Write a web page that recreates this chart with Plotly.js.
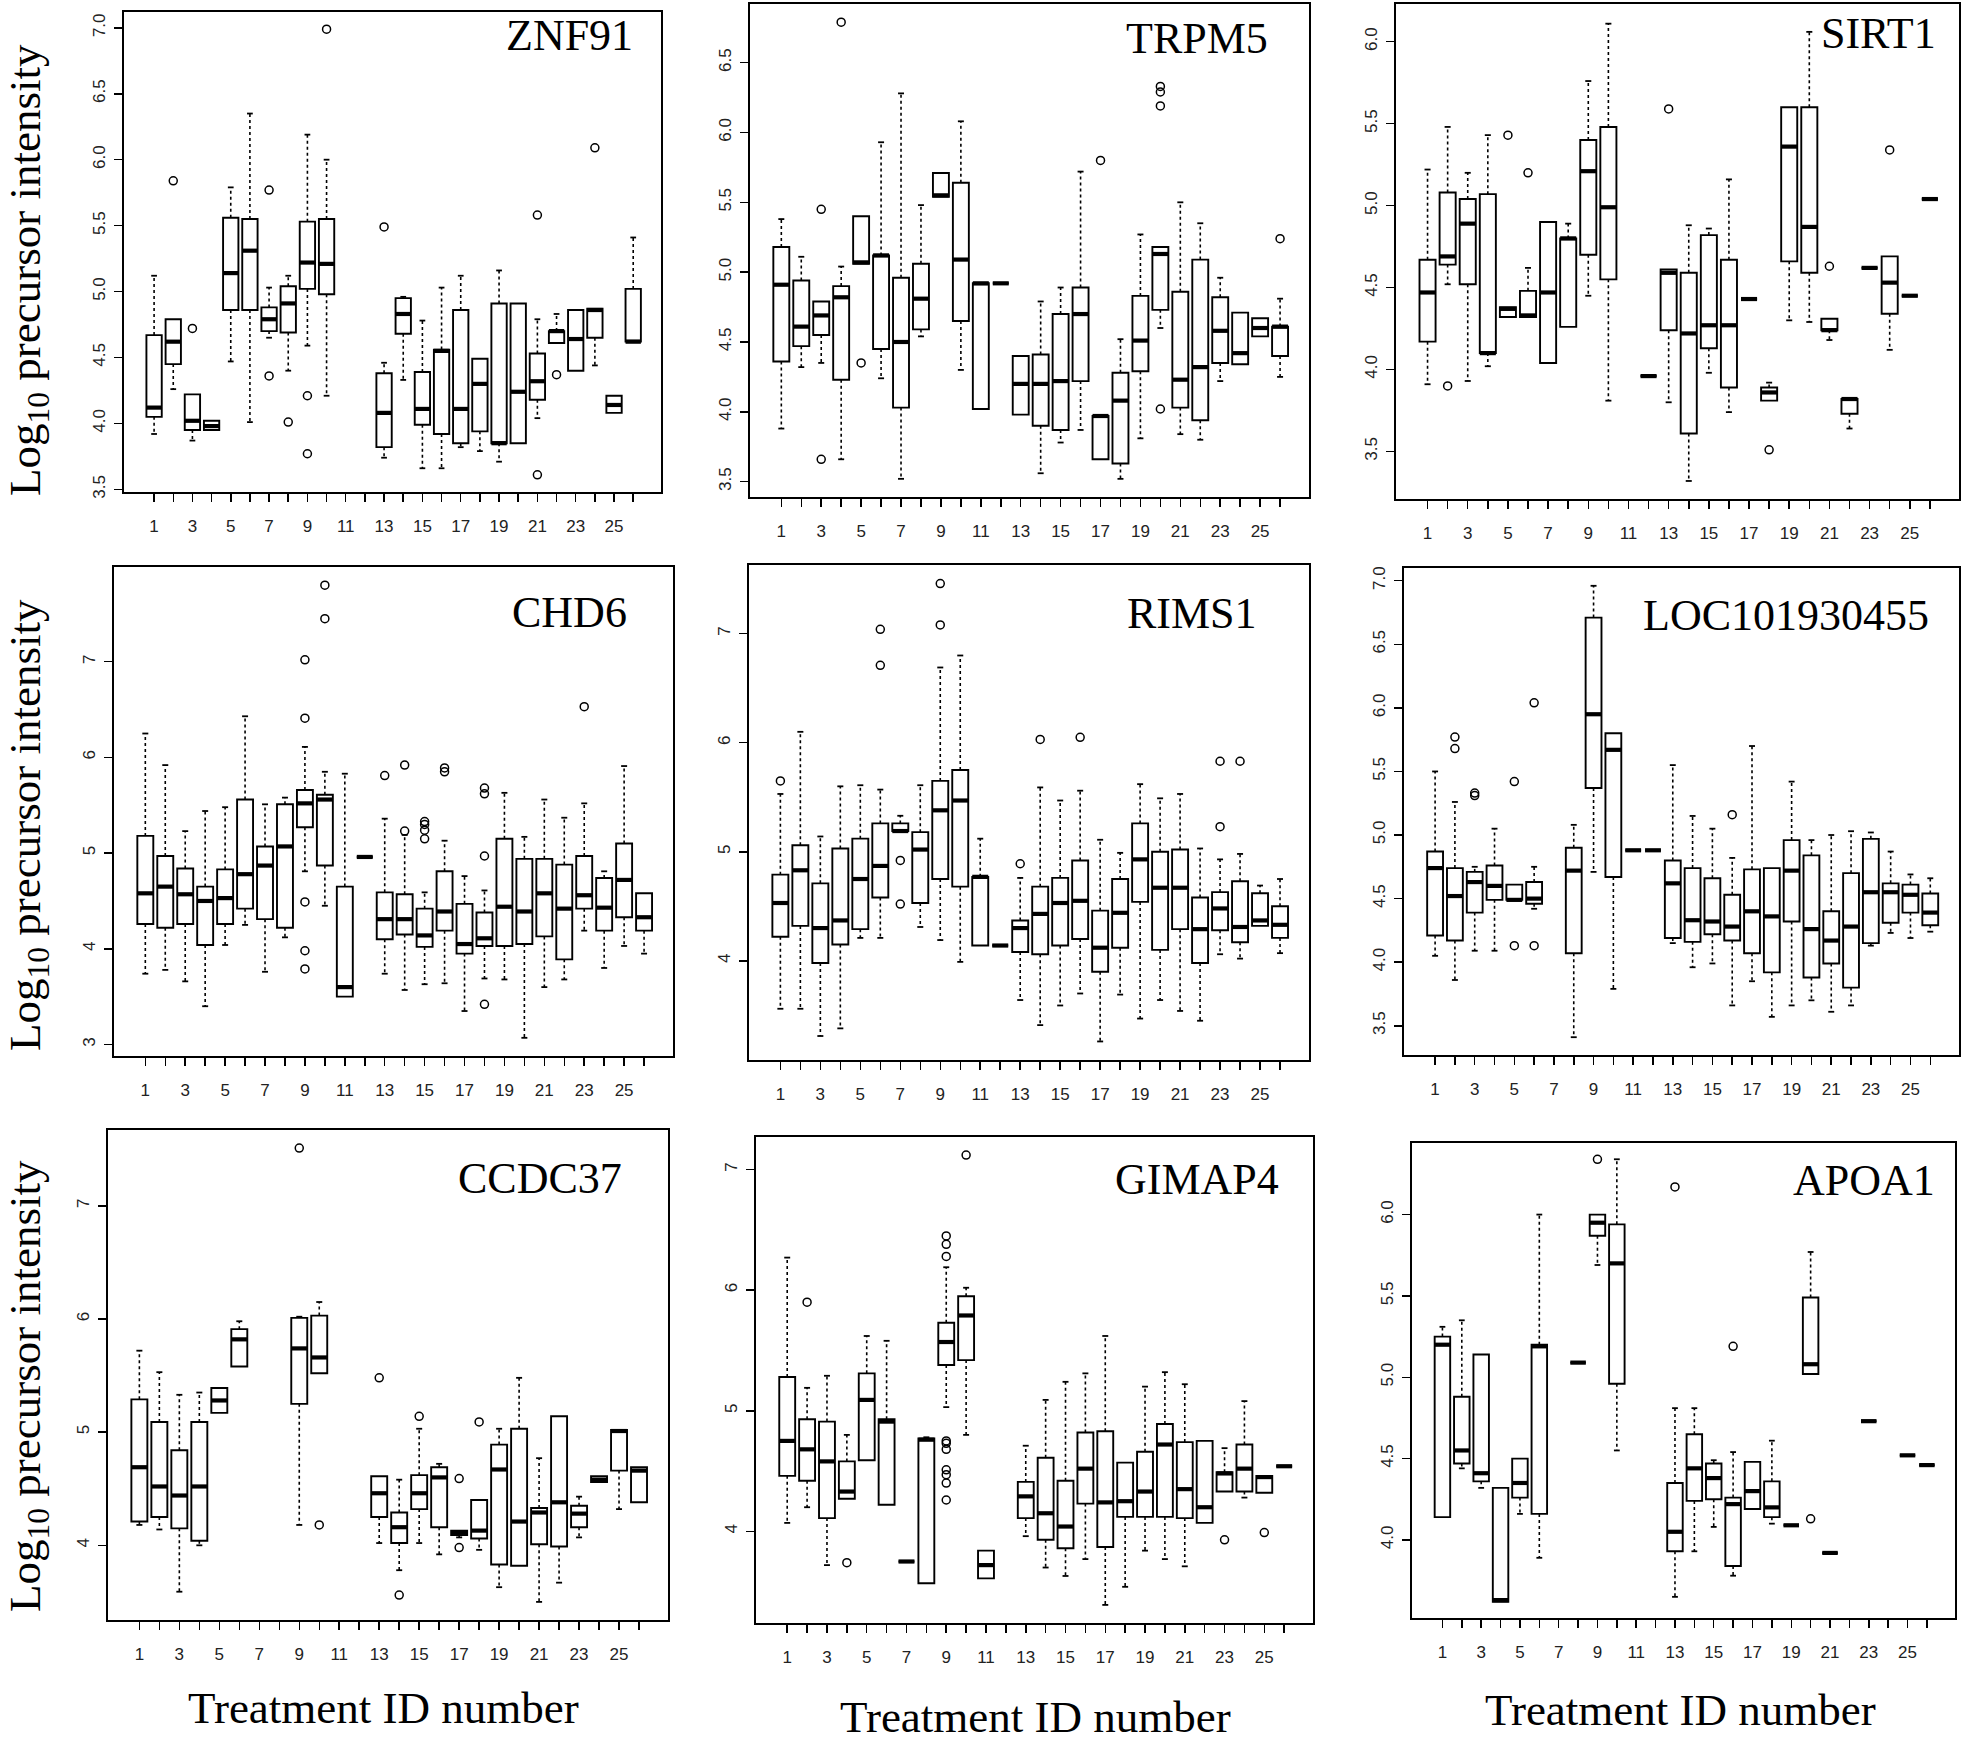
<!DOCTYPE html>
<html><head><meta charset="utf-8">
<script src="https://cdn.plot.ly/plotly-3.0.1.min.js"></script>
<style>html,body{margin:0;padding:0;background:#fff;}#chart{width:1967px;height:1746px;}</style>
</head><body><div id="chart"></div>
<script>
// ---------- DATA ----------
const treatmentIds = [1,2,3,4,5,6,7,8,9,10,11,12,13,14,15,16,17,18,19,20,21,22,23,24,25,26];
const labelledIds = [1,3,5,7,9,11,13,15,17,19,21,23,25];
const unlabelledIds = [2,4,6,8,10,12,14,16,18,20,22,24,26];
const xTickLabels = ["1","3","5","7","9","11","13","15","17","19","21","23","25"];
const geneNames = ["ZNF91","TRPM5","SIRT1","CHD6","RIMS1","LOC101930455","CCDC37","GIMAP4","APOA1"];

const ZNF91_lo  = [3.92,4.26,3.87,3.95,4.47,4.01,4.65,4.40,4.59,4.21,null,null,3.74,4.33,3.66,3.66,3.82,3.79,3.71,3.85,4.04,4.61,4.40,4.44,4.08,4.62];
const ZNF91_q1  = [4.05,4.45,3.95,3.95,4.86,4.86,4.70,4.69,5.02,4.98,null,null,3.82,4.68,3.99,3.92,3.85,3.94,3.85,3.85,4.18,4.61,4.40,4.65,4.08,4.62];
const ZNF91_med = [4.12,4.62,4.02,3.98,5.14,5.31,4.79,4.91,5.22,5.21,null,null,4.08,4.83,4.11,4.55,4.11,4.30,3.85,4.24,4.32,4.70,4.64,4.86,4.14,4.62];
const ZNF91_q3  = [4.67,4.79,4.22,4.02,5.56,5.55,4.88,5.04,5.53,5.55,null,null,4.38,4.95,4.39,4.56,4.86,4.49,4.91,4.91,4.53,4.70,4.86,4.87,4.21,5.02];
const ZNF91_hi  = [5.12,4.79,4.22,4.02,5.79,6.35,5.03,5.12,6.19,6.00,null,null,4.46,4.96,4.78,5.03,5.12,4.49,5.16,4.91,4.79,4.83,4.86,4.87,4.21,5.41];
const ZNF91_outId  = [2,3,7,7,8,9,9,10,13,21,21,22,24];
const ZNF91_outVal = [5.84,4.72,5.77,4.36,4.01,4.21,3.77,6.99,5.49,5.58,3.61,4.37,6.09];

const TRPM5_lo  = [3.88,4.32,4.35,3.66,5.06,4.24,3.52,4.54,5.54,4.30,4.02,4.92,3.98,3.56,3.78,3.87,3.66,3.52,3.81,4.60,3.84,3.80,4.22,4.34,4.54,4.25];
const TRPM5_q1  = [4.36,4.47,4.55,4.23,5.06,4.45,4.03,4.59,5.54,4.65,4.02,4.92,3.98,3.90,3.87,4.22,3.66,3.63,4.29,4.73,4.03,3.94,4.35,4.34,4.54,4.40];
const TRPM5_med = [4.91,4.61,4.69,4.82,5.07,5.12,4.50,4.81,5.55,5.09,4.92,4.92,4.20,4.20,4.22,4.70,3.97,4.08,4.51,5.13,4.23,4.32,4.58,4.42,4.60,4.61];
const TRPM5_q3  = [5.18,4.94,4.79,4.90,5.40,5.12,4.96,5.06,5.71,5.64,4.92,4.92,4.40,4.41,4.70,4.89,3.97,4.28,4.83,5.18,4.86,5.09,4.82,4.71,4.67,4.61];
const TRPM5_hi  = [5.38,5.11,4.79,5.04,5.40,5.93,6.28,5.48,5.71,6.08,4.92,4.92,4.40,4.79,4.89,5.72,3.97,4.52,5.27,5.18,5.50,5.35,4.96,4.71,4.67,4.81];
const TRPM5_outId  = [3,3,4,5,17,20,20,20,20,26];
const TRPM5_outVal = [5.45,3.66,6.79,4.35,5.80,6.33,6.29,6.19,4.02,5.24];

const SIRT1_lo  = [3.91,4.52,3.93,4.02,4.32,4.32,4.04,4.26,4.45,3.81,null,3.96,3.80,3.32,3.98,3.74,4.43,3.81,4.30,4.29,4.18,3.64,4.62,4.12,4.45,5.04];
const SIRT1_q1  = [4.17,4.64,4.52,4.10,4.32,4.32,4.04,4.26,4.70,4.55,null,3.96,4.24,3.61,4.13,3.89,4.43,3.81,4.66,4.59,4.24,3.73,4.62,4.34,4.45,5.04];
const SIRT1_med = [4.47,4.69,4.89,4.10,4.37,4.33,4.47,4.80,5.21,4.99,null,3.96,4.59,4.22,4.27,4.27,4.43,3.86,5.36,4.87,4.24,3.82,4.62,4.53,4.45,5.04];
const SIRT1_q3  = [4.67,5.08,5.04,5.07,4.38,4.48,4.90,4.80,5.40,5.48,null,3.96,4.61,4.59,4.82,4.67,4.43,3.89,5.60,5.60,4.31,3.82,4.62,4.69,4.45,5.04];
const SIRT1_hi  = [5.22,5.48,5.20,5.43,4.38,4.62,4.90,4.89,5.76,6.11,null,3.96,4.61,4.88,4.86,5.16,4.43,3.92,5.60,6.06,4.31,3.82,4.62,4.69,4.45,5.04];
const SIRT1_outId  = [2,5,6,13,18,21,24];
const SIRT1_outVal = [3.90,5.43,5.20,5.59,3.51,4.63,5.34];

const CHD6_lo  = [3.74,3.78,3.66,3.40,4.04,4.25,3.76,4.12,4.81,4.45,3.50,4.96,3.74,3.57,3.63,3.64,3.35,3.69,3.68,3.07,3.60,3.68,4.19,3.80,4.03,3.95];
const CHD6_q1  = [4.26,4.22,4.26,4.04,4.26,4.42,4.31,4.22,5.27,4.87,3.50,4.96,4.10,4.15,4.02,4.19,3.95,4.03,4.03,4.05,4.13,3.89,4.42,4.19,4.33,4.19];
const CHD6_med = [4.58,4.65,4.57,4.50,4.53,4.78,4.87,5.07,5.52,5.56,3.60,4.96,4.31,4.31,4.14,4.39,4.05,4.11,4.44,4.39,4.58,4.42,4.56,4.43,4.72,4.33];
const CHD6_q3  = [5.18,4.97,4.84,4.65,4.83,5.56,5.07,5.51,5.66,5.61,4.65,4.96,4.59,4.57,4.42,4.81,4.47,4.38,5.15,4.94,4.94,4.88,4.97,4.74,5.10,4.58];
const CHD6_hi  = [6.25,5.92,5.23,5.44,5.48,6.43,5.51,5.58,6.11,5.85,5.83,4.96,5.36,5.19,4.59,5.13,4.76,4.61,5.63,5.17,5.56,5.37,5.52,4.81,5.91,4.58];
const CHD6_outId  = [9,9,9,9,9,10,10,13,14,14,15,15,15,15,16,16,18,18,18,18,23];
const CHD6_outVal = [7.02,6.41,4.49,3.98,3.79,7.80,7.45,5.81,5.92,5.23,5.33,5.30,5.24,5.15,5.89,5.85,5.68,5.62,4.97,3.42,6.53];

const RIMS1_lo  = [3.56,3.56,3.31,3.38,4.21,4.21,5.19,4.31,4.19,3.99,4.14,4.14,3.64,3.41,3.59,3.70,3.26,3.69,3.47,3.64,3.54,3.45,4.06,4.02,4.32,4.07];
const RIMS1_q1  = [4.22,4.32,3.98,4.15,4.29,4.58,5.19,4.53,4.75,4.68,4.14,4.14,4.08,4.06,4.14,4.20,3.90,4.12,4.54,4.10,4.29,3.98,4.28,4.17,4.32,4.21];
const RIMS1_med = [4.53,4.83,4.30,4.37,4.75,4.87,5.19,5.02,5.38,5.47,4.77,4.14,4.30,4.43,4.53,4.55,4.12,4.44,4.93,4.67,4.67,4.29,4.48,4.31,4.37,4.33];
const RIMS1_q3  = [4.79,5.06,4.71,5.03,5.12,5.26,5.26,5.18,5.65,5.75,4.77,4.14,4.37,4.68,4.76,4.92,4.46,4.75,5.26,5.00,5.02,4.58,4.63,4.73,4.62,4.50];
const RIMS1_hi  = [5.53,6.10,5.14,5.60,5.61,5.57,5.33,5.61,6.69,6.80,5.12,4.14,4.76,5.59,5.47,5.56,5.11,4.99,5.62,5.49,5.53,5.03,4.93,4.98,4.69,4.75];
const RIMS1_outId  = [1,6,6,7,7,9,9,13,14,16,23,23,24];
const RIMS1_outVal = [5.65,7.04,6.71,4.92,4.52,7.46,7.08,4.89,6.03,6.05,5.83,5.23,5.83];

const LOC101930455_lo  = [4.05,3.86,4.09,4.09,4.49,4.42,null,3.41,4.71,3.79,4.88,4.88,4.15,3.96,3.99,3.66,3.85,3.57,3.66,3.70,3.61,3.66,4.13,4.23,4.19,4.24];
const LOC101930455_q1  = [4.21,4.17,4.39,4.49,4.49,4.46,null,4.07,5.37,4.67,4.88,4.88,4.19,4.16,4.22,4.17,4.07,3.92,4.32,3.88,3.99,3.80,4.15,4.31,4.39,4.29];
const LOC101930455_med = [4.74,4.52,4.63,4.60,4.49,4.50,null,4.72,5.95,5.67,4.88,4.88,4.62,4.33,4.32,4.28,4.40,4.36,4.72,4.26,4.17,4.28,4.55,4.55,4.53,4.39];
const LOC101930455_q3  = [4.87,4.74,4.71,4.76,4.61,4.63,null,4.90,6.71,5.80,4.88,4.88,4.80,4.74,4.66,4.53,4.73,4.74,4.96,4.84,4.40,4.70,4.97,4.62,4.61,4.54];
const LOC101930455_hi  = [5.50,5.26,4.75,5.05,4.61,4.75,null,5.08,6.96,5.80,4.88,4.88,5.55,5.15,5.05,4.82,5.70,4.74,5.42,4.96,5.00,5.03,5.02,4.87,4.69,4.66];
const LOC101930455_outId  = [2,2,3,3,5,5,6,6,16];
const LOC101930455_outVal = [5.77,5.68,5.33,5.31,5.42,4.13,6.04,4.13,5.16];

const CCDC37_lo  = [4.18,4.14,3.59,4.00,5.17,5.58,null,null,4.18,5.52,null,null,4.02,3.78,4.02,3.92,4.07,3.96,3.63,3.82,3.50,3.67,4.07,4.56,4.32,4.38];
const CCDC37_q1  = [4.21,4.25,4.15,4.04,5.17,5.58,null,null,5.25,5.52,null,null,4.25,4.02,4.32,4.16,4.09,4.06,3.83,3.82,4.01,3.99,4.16,4.56,4.66,4.38];
const CCDC37_med = [4.69,4.52,4.44,4.52,5.28,5.82,null,null,5.74,5.66,null,null,4.46,4.16,4.46,4.60,4.11,4.13,4.67,4.21,4.29,4.38,4.28,4.58,5.01,4.66];
const CCDC37_q3  = [5.29,5.09,4.84,5.09,5.39,5.91,null,null,6.01,6.03,null,null,4.61,4.29,4.62,4.69,4.13,4.40,4.89,5.03,4.33,5.14,4.35,4.61,5.02,4.69];
const CCDC37_hi  = [5.72,5.53,5.33,5.35,5.39,5.98,null,null,6.02,6.15,null,null,4.61,4.58,5.03,4.72,4.13,4.40,5.03,5.48,4.77,5.14,4.43,4.61,5.02,4.69];
const CCDC37_outId  = [9,10,13,14,15,17,17,18];
const CCDC37_outVal = [7.51,4.18,5.48,3.56,5.14,4.59,3.98,5.09];

const GIMAP4_lo  = [4.07,4.20,3.72,4.27,4.59,4.22,3.75,3.57,5.03,4.80,3.61,null,3.96,3.70,3.63,3.77,3.39,3.54,3.84,3.77,3.71,4.07,4.33,4.28,4.32,4.54];
const GIMAP4_q1  = [4.46,4.42,4.11,4.27,4.59,4.22,3.75,3.57,5.38,5.42,3.61,null,4.11,3.93,3.86,4.23,3.87,4.12,4.12,4.12,4.11,4.07,4.33,4.33,4.32,4.54];
const GIMAP4_med = [4.75,4.68,4.58,4.33,5.09,4.91,3.75,4.76,5.57,5.79,3.72,null,4.29,4.15,4.04,4.52,4.24,4.25,4.33,4.72,4.35,4.20,4.48,4.52,4.45,4.54];
const GIMAP4_q3  = [5.28,4.93,4.91,4.58,5.31,4.93,3.75,4.77,5.73,5.95,3.84,null,4.41,4.61,4.42,4.82,4.83,4.57,4.66,4.89,4.74,4.75,4.49,4.72,4.46,4.54];
const GIMAP4_hi  = [6.27,5.19,5.29,4.80,5.62,5.58,3.75,4.78,6.19,6.02,3.84,null,4.71,5.09,5.24,5.31,5.62,4.57,5.20,5.32,5.22,4.75,4.69,5.08,4.46,4.54];
const GIMAP4_outId  = [2,4,9,9,9,9,9,9,9,9,9,9,10,23,25];
const GIMAP4_outVal = [5.90,3.74,6.45,6.38,6.28,4.75,4.73,4.68,4.51,4.47,4.40,4.26,7.12,3.93,3.99];

const APOA1_lo  = [4.14,4.44,4.32,3.62,4.16,3.89,null,5.09,5.69,4.55,null,null,3.65,3.93,4.08,3.78,4.19,4.10,4.09,5.02,3.92,null,4.73,null,4.52,4.46];
const APOA1_q1  = [4.14,4.47,4.36,3.62,4.26,4.16,null,5.09,5.87,4.96,null,null,3.93,4.24,4.25,3.84,4.19,4.14,4.09,5.02,3.92,null,4.73,null,4.52,4.46];
const APOA1_med = [5.20,4.55,4.41,3.63,4.35,5.19,null,5.09,5.95,5.70,null,null,4.05,4.44,4.38,4.22,4.30,4.20,4.09,5.08,3.92,null,4.73,null,4.52,4.46];
const APOA1_q3  = [5.25,4.88,5.14,4.32,4.50,5.20,null,5.09,6.00,5.94,null,null,4.35,4.65,4.47,4.26,4.48,4.36,4.09,5.49,3.92,null,4.73,null,4.52,4.46];
const APOA1_hi  = [5.31,5.35,5.14,4.32,4.50,6.00,null,5.09,6.00,6.34,null,null,4.81,4.81,4.49,4.54,4.48,4.61,4.09,5.77,3.92,null,4.73,null,4.52,4.46];
const APOA1_outId  = [9,13,16,20];
const APOA1_outVal = [6.34,6.17,5.19,4.13];

// y tick values per panel
const yTicksHalf_35_70 = [3.5,4.0,4.5,5.0,5.5,6.0,6.5,7.0];
const yTicksHalf_35_65 = [3.5,4.0,4.5,5.0,5.5,6.0,6.5];
const yTicksHalf_35_60 = [3.5,4.0,4.5,5.0,5.5,6.0];
const yTicksHalf_40_60 = [4.0,4.5,5.0,5.5,6.0];
const yTicksInt_3_7 = [3,4,5,6,7];
const yTicksInt_4_7 = [4,5,6,7];

// ---------- STYLE / LAYOUT ----------
const W = 1967, H = 1746;
const stats = [
  [ZNF91_lo,ZNF91_q1,ZNF91_med,ZNF91_q3,ZNF91_hi,ZNF91_outId,ZNF91_outVal],
  [TRPM5_lo,TRPM5_q1,TRPM5_med,TRPM5_q3,TRPM5_hi,TRPM5_outId,TRPM5_outVal],
  [SIRT1_lo,SIRT1_q1,SIRT1_med,SIRT1_q3,SIRT1_hi,SIRT1_outId,SIRT1_outVal],
  [CHD6_lo,CHD6_q1,CHD6_med,CHD6_q3,CHD6_hi,CHD6_outId,CHD6_outVal],
  [RIMS1_lo,RIMS1_q1,RIMS1_med,RIMS1_q3,RIMS1_hi,RIMS1_outId,RIMS1_outVal],
  [LOC101930455_lo,LOC101930455_q1,LOC101930455_med,LOC101930455_q3,LOC101930455_hi,LOC101930455_outId,LOC101930455_outVal],
  [CCDC37_lo,CCDC37_q1,CCDC37_med,CCDC37_q3,CCDC37_hi,CCDC37_outId,CCDC37_outVal],
  [GIMAP4_lo,GIMAP4_q1,GIMAP4_med,GIMAP4_q3,GIMAP4_hi,GIMAP4_outId,GIMAP4_outVal],
  [APOA1_lo,APOA1_q1,APOA1_med,APOA1_q3,APOA1_hi,APOA1_outId,APOA1_outVal]
];
const yTickSets = [yTicksHalf_35_70,yTicksHalf_35_65,yTicksHalf_35_60,yTicksInt_3_7,yTicksInt_4_7,yTicksHalf_35_70,yTicksInt_4_7,yTicksInt_4_7,yTicksHalf_40_60];
const yFormats = ['.1f','.1f','.1f','d','d','.1f','d','d','.1f'];
const yRanges = [[3.48,7.12],[3.39,6.92],[3.21,6.23],[2.88,7.99],[3.09,7.63],[3.27,7.10],[3.34,7.67],[3.24,7.27],[3.52,6.44]];
// plot rectangles in px: left, right, top, bottom
const rects = [[124,661,12,492],[750,1309,4,497],[1396,1959,4,499],
               [114,673,567,1056],[749,1309,565,1060],[1404,1959,568,1055],
               [108,668,1130,1620],[756,1313,1137,1623],[1412,1955,1143,1618]];
const titleRight = [635,1270,1938,629,1259,1931,624,1281,1937];
const titleCapTop = [20,23,18,597,598,600,1163,1164,1165];
const xRange = [-0.57,27.45];

const tickFont = {family:'"Liberation Sans", Arial, sans-serif', size:17, color:'#222'};
const serif = '"Liberation Serif", "Times New Roman", serif';
const traces = [];
const layout = {width:W,height:H,margin:{l:0,r:0,t:0,b:0},paper_bgcolor:'#fff',plot_bgcolor:'#fff',showlegend:false,annotations:[]};

stats.forEach((s,k)=>{
  const [lo,q1,med,q3,hi,oid,oval] = s;
  const n = k+1, xs = n>1?'x'+n:'x', ys = n>1?'y'+n:'y';
  const bx=[], bq1=[], bmed=[], bq3=[];
  const mx=[], my=[], wx=[], wy=[], cx=[], cy=[];
  treatmentIds.forEach((id,i)=>{
    if(med[i]==null) return;
    bx.push(id); bq1.push(q1[i]); bmed.push(med[i]); bq3.push(q3[i]);
    mx.push(id-0.4,id+0.4,null); my.push(med[i],med[i],null);
    if(hi[i]>q3[i]+1e-9){ wx.push(id,id,null); wy.push(q3[i],hi[i],null); cx.push(id-0.15,id+0.15,null); cy.push(hi[i],hi[i],null); }
    if(lo[i]<q1[i]-1e-9){ wx.push(id,id,null); wy.push(q1[i],lo[i],null); cx.push(id-0.15,id+0.15,null); cy.push(lo[i],lo[i],null); }
  });
  traces.push({type:'box',x:bx,q1:bq1,median:bmed,q3:bq3,lowerfence:bq1,upperfence:bq3,width:0.8,whiskerwidth:0,
    fillcolor:'#fff',line:{color:'#000',width:1.9},boxpoints:false,hoverinfo:'skip',xaxis:xs,yaxis:ys});
  traces.push({type:'scatter',mode:'lines',x:wx,y:wy,line:{color:'#000',width:1.6,dash:'3px,3px'},hoverinfo:'skip',xaxis:xs,yaxis:ys});
  traces.push({type:'scatter',mode:'lines',x:cx,y:cy,line:{color:'#000',width:1.8},hoverinfo:'skip',xaxis:xs,yaxis:ys});
  traces.push({type:'scatter',mode:'lines',x:mx,y:my,line:{color:'#000',width:4.2},hoverinfo:'skip',xaxis:xs,yaxis:ys});
  traces.push({type:'scatter',mode:'markers',x:oid,y:oval,marker:{symbol:'circle-open',size:8,color:'#000',line:{width:1.5,color:'#000'}},hoverinfo:'skip',xaxis:xs,yaxis:ys});

  const [l,r,t,b] = rects[k];
  const common = {showline:true,linecolor:'#000',linewidth:1.7,mirror:true,ticks:'outside',ticklen:8,tickwidth:1.5,tickcolor:'#000',
    showgrid:false,zeroline:false,tickfont:tickFont,fixedrange:true};
  layout[n>1?'xaxis'+n:'xaxis'] = Object.assign({},common,{domain:[l/W,r/W],range:xRange,tickmode:'array',tickvals:labelledIds,ticktext:xTickLabels,
    minor:{tickmode:'array',tickvals:unlabelledIds,ticks:'outside',ticklen:8,tickwidth:1.5,tickcolor:'#000',showgrid:false},
    anchor:ys,ticklabelstandoff:10});
  layout[n>1?'yaxis'+n:'yaxis'] = Object.assign({},common,{domain:[1-b/H,1-t/H],range:yRanges[k],tickmode:'array',tickvals:yTickSets[k],
    tickformat:yFormats[k],tickangle:-90,anchor:xs,ticklabelstandoff:3});
  layout.annotations.push({text:geneNames[k],xref:'paper',yref:'paper',x:titleRight[k]/W,y:1-(titleCapTop[k]-11)/H,
    xanchor:'right',yanchor:'top',showarrow:false,font:{family:serif,size:44,color:'#000'}});
});

const yLabelCenters = [270,825,1386];
yLabelCenters.forEach(c=>{
  layout.annotations.push({text:'Log<sub>10</sub> precursor intensity',xref:'paper',yref:'paper',x:28/W,y:1-c/H,
    xanchor:'center',yanchor:'middle',textangle:-90,showarrow:false,font:{family:serif,size:45,color:'#000'}});
});
const xTitleCenters = [[383,1708],[1035,1717],[1680,1710]];
xTitleCenters.forEach(([cxp,cyp])=>{
  layout.annotations.push({text:'Treatment ID number',xref:'paper',yref:'paper',x:cxp/W,y:1-cyp/H,
    xanchor:'center',yanchor:'middle',showarrow:false,font:{family:serif,size:45,color:'#000'}});
});

Plotly.newPlot('chart',traces,layout,{staticPlot:true,displayModeBar:false});
</script></body></html>
